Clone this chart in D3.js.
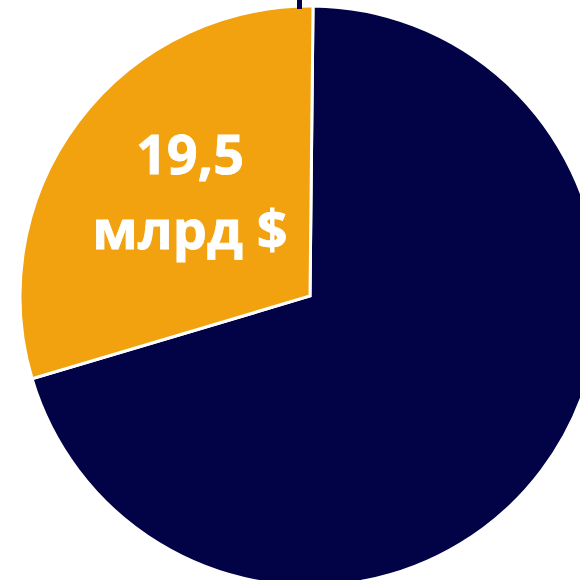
<!DOCTYPE html>
<html>
<head>
<meta charset="utf-8">
<script src="https://cdn.jsdelivr.net/npm/d3@7"></script>
<style>
  body { margin: 0; background: #fff; }
  svg { display: block; }
</style>
</head>
<body>
<div id="chart"></div>
<script>
// slices, clockwise from 12 o'clock
var categories = ["other", "segment"]
var values = [46.0, 19.5]
var colors = ["#020346", "#F2A10F"]
var labels = [null, ["19,5", "млрд $"]]

var width = 580, height = 580
var cx = 310, cy = 296, radius = 290

var svg = d3.select("#chart").append("svg")
  .attr("width", width)
  .attr("height", height)

var g = svg.append("g")
  .attr("transform", "translate(" + cx + "," + cy + ")")

var offset = 0.6 * Math.PI / 180
var pie = d3.pie().sort(null)
  .startAngle(offset)
  .endAngle(2 * Math.PI + offset)
  .value(d => d.value)

var data = categories.map((c, i) => ({ name: c, value: values[i], color: colors[i], label: labels[i] }))
var arcs = pie(data)

var arc = d3.arc().innerRadius(0).outerRadius(radius)

g.selectAll("path.slice")
    .data(arcs)
  .enter().append("path")
    .attr("class", "slice")
    .attr("d", arc)
    .attr("fill", d => d.data.color)
    .attr("stroke", "#fff")
    .attr("stroke-width", 3)
    .attr("stroke-linejoin", "miter")

// leader line of a label sitting above the visible area
svg.append("line")
  .attr("x1", 299.5).attr("y1", -20)
  .attr("x2", 299.5).attr("y2", 9)
  .attr("stroke", "#020346")
  .attr("stroke-width", 5)

// label inside the orange slice
var lab = arcs.filter(d => d.data.label)
lab.forEach(d => {
  var t = g.append("text")
    .attr("x", 190 - cx)
    .attr("text-anchor", "middle")
    .attr("fill", "#fff")
    .attr("stroke", "#fff")
    .attr("stroke-width", 0.8)
    .style("font-family", "'Open Sans', 'DejaVu Sans', sans-serif")
    .style("font-weight", "bold")
    .style("font-size", "54px")
  d.data.label.forEach((s, i) => {
    t.append("tspan")
      .attr("x", 190 - cx)
      .attr("y", (i == 0 ? 174 : 249) - cy)
      .text(s)
  })
})
</script>
</body>
</html>
